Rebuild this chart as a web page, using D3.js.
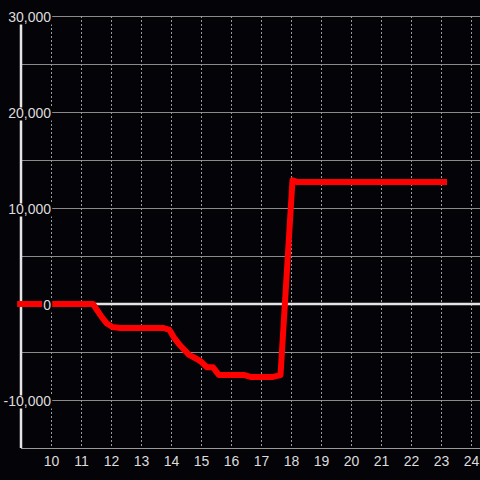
<!DOCTYPE html>
<html>
<head>
<meta charset="utf-8">
<script src="https://cdn.jsdelivr.net/npm/d3@7"></script>
<style>
  html, body { margin: 0; padding: 0; background: #040307; }
  svg { display: block; }
</style>
</head>
<body>
<div id="chart"></div>
<script>
// Data (hour of day vs value)
const hours = [8.87, 11.4, 11.55, 11.7, 11.85, 12.05, 12.3, 13.0, 13.75, 13.95, 14.1, 14.3, 14.6, 14.85, 15.0, 15.2, 15.4, 15.6, 16.0, 16.45, 16.65, 17.0, 17.4, 17.65, 18.05, 18.2, 23.2];
const values = [0, 0, -700, -1400, -2000, -2400, -2500, -2500, -2500, -2700, -3500, -4300, -5300, -5700, -6000, -6600, -6600, -7400, -7400, -7400, -7600, -7600, -7600, -7400, 12900, 12700, 12700];
const xTicks = [10, 11, 12, 13, 14, 15, 16, 17, 18, 19, 20, 21, 22, 23, 24];
const yTicks = [-10000, 0, 10000, 20000, 30000];
const yGrid = [-10000, -5000, 0, 5000, 10000, 15000, 20000, 25000, 30000];

const W = 480, H = 480;
const bg = '#040307';

const svg = d3.select('#chart').append('svg')
    .attr('width', W)
    .attr('height', H)
    .style('background', bg);

const x = d3.scaleLinear().domain([9, 24.3]).range([21, 480]);
const y = d3.scaleLinear().domain([-15000, 30000]).range([448, 16]);

// horizontal grid
svg.append('g').selectAll('line')
    .data(yGrid.filter(d => d !== 0))
    .join('line')
    .attr('x1', 21).attr('x2', W)
    .attr('y1', d => Math.round(y(d)) + 0.5).attr('y2', d => Math.round(y(d)) + 0.5)
    .attr('stroke', '#8a8a88')
    .attr('stroke-width', 1);

// vertical dashed grid
svg.append('g').selectAll('line')
    .data(xTicks)
    .join('line')
    .attr('x1', d => Math.round(x(d)) + 0.5).attr('x2', d => Math.round(x(d)) + 0.5)
    .attr('y1', y(30000)).attr('y2', y(-15000))
    .attr('stroke', '#9a9a9a')
    .attr('stroke-width', 1)
    .attr('stroke-dasharray', '2,2');

// bottom axis line
svg.append('line')
    .attr('x1', 21).attr('x2', W)
    .attr('y1', y(-15000) + 0.5).attr('y2', y(-15000) + 0.5)
    .attr('stroke', '#9a9a98');

// zero line
svg.append('line')
    .attr('x1', 21).attr('x2', W)
    .attr('y1', y(0)).attr('y2', y(0))
    .attr('stroke', '#e4e4e4')
    .attr('stroke-width', 2.5);

// y axis line
svg.append('line')
    .attr('x1', 21).attr('x2', 21)
    .attr('y1', y(30000)).attr('y2', y(-15000))
    .attr('stroke', '#e4e4e4')
    .attr('stroke-width', 2.5);

// series line
const pts = hours.map((h, i) => [h, values[i]]);
svg.append('path')
    .datum(pts)
    .attr('d', d3.line().x(d => x(d[0])).y(d => y(d[1])))
    .attr('fill', 'none')
    .attr('stroke', '#ff0000')
    .attr('stroke-width', 6)
    .attr('stroke-linejoin', 'round');

// x axis labels
const xAxis = svg.append('g')
    .attr('transform', `translate(0,${y(-15000)})`)
    .call(d3.axisBottom(x).tickValues(xTicks).tickSize(0).tickPadding(8).tickFormat(d3.format('d')));
xAxis.select('.domain').remove();
xAxis.selectAll('text')
    .attr('fill', '#dcdcdc')
    .style('font-family', '"Liberation Sans", Arial, sans-serif')
    .style('font-size', '14px');

// y axis labels with background boxes
const fmt = d => d3.format(',')(d).replace('\u2212', '-');
const yAxis = svg.append('g')
    .attr('transform', 'translate(53,0)')
    .call(d3.axisLeft(y).tickValues(yTicks).tickSize(0).tickPadding(2).tickFormat(fmt));
yAxis.select('.domain').remove();
yAxis.selectAll('text')
    .attr('fill', '#dcdcdc')
    .attr('dy', '0.36em')
    .style('font-family', '"Liberation Sans", Arial, sans-serif')
    .style('font-size', '14px');
yAxis.selectAll('.tick').each(function () {
    const t = d3.select(this).select('text');
    const b = t.node().getBBox();
    d3.select(this).insert('rect', 'text')
        .attr('x', b.x - 1).attr('y', -5)
        .attr('width', b.width + 2).attr('height', 13)
        .attr('fill', bg);
});
</script>
</body>
</html>
